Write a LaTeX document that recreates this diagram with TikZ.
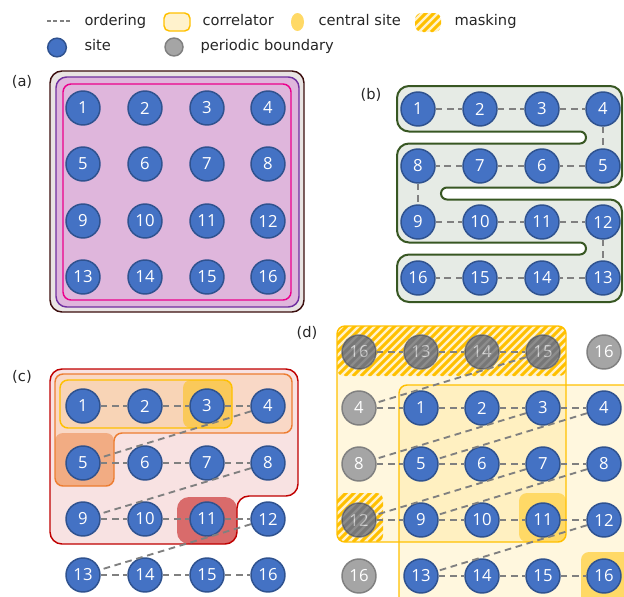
\documentclass[tikz,border=0pt]{standalone}
\usepackage{fontspec}
\setmainfont{DejaVu Sans}
\newfontfamily\sitefont{Open Sans}
\usetikzlibrary{shapes.geometric}

\definecolor{siteblue}{HTML}{4472C4}
\definecolor{siteedge}{HTML}{2F528F}
\definecolor{pbcgray}{HTML}{A5A5A5}
\definecolor{pbcedge}{HTML}{808080}
\definecolor{ordgray}{HTML}{808080}
\definecolor{corrgold}{HTML}{FFC000}
\definecolor{corrcream}{HTML}{FFF2CC}
\definecolor{centyellow}{HTML}{FFD966}
\definecolor{sqbrown}{HTML}{3B0D0D}
\definecolor{sqgray}{HTML}{E9E4E3}
\definecolor{sqpurple}{HTML}{7030A0}
\definecolor{sqpink}{HTML}{DFB6DC}
\definecolor{snakegreen}{HTML}{385723}
\definecolor{snakefill}{HTML}{E6EBE5}
\definecolor{regred}{HTML}{C00000}
\definecolor{regpink}{HTML}{F8E2E2}
\definecolor{regorange}{HTML}{ED7D31}
\definecolor{regpeach}{HTML}{F9D8C6}
\definecolor{corrpeach}{HTML}{F8D4B6}
\definecolor{fivefill}{HTML}{F2AC83}
\definecolor{threefill}{HTML}{FAC95A}
\definecolor{elevenfill}{HTML}{D96B6B}

\tikzset{every picture/.style={line width=0.75pt}}
\tikzset{
  site/.style={circle, fill=siteblue, draw=siteedge, line width=1.1pt, minimum size=25.5pt, inner sep=0pt, text=white, font=\sitefont\fontsize{12.5}{14}\selectfont},
  pbcsite/.style={site, fill=pbcgray, draw=pbcedge},
  orderline/.style={draw=ordgray, line width=1.4pt, dash pattern=on 5pt off 3.5pt},
  lbl/.style={inner sep=0.75pt, font=\fontsize{11}{13}\selectfont, text=black!85},
  corrline/.style={draw=corrgold, line width=1.1pt, rounded corners=6pt},
  maskline/.style={draw=corrgold, line width=2.3pt},
}

% striped (masked) box: x1, y1, x2, y2
\newcommand{\hatchbox}[4]{%
  \begin{scope}
    \clip[rounded corners=5pt] (#1,#2) rectangle (#3,#4);
    \fill[corrcream] (#1,#2) rectangle (#3,#4);
    \foreach \s in {-64,-56,...,232}
      \draw[maskline] (#1,#4) ++(\s,0) -- ++(72,-72);
  \end{scope}}

% darker stripes over a masked site: node, stripe origin x, y
\newcommand{\maskshade}[3]{%
  \begin{scope}
    \clip (#1.center) circle[radius=17];
    \fill[black, opacity=.15] (#1.center) circle[radius=17];
    \foreach \s in {-64,-56,...,232}
      \draw[black, opacity=.15, line width=2.3pt] (#2,#3) ++(\s,0) -- ++(72,-72);
  \end{scope}}

\begin{document}
\begin{tikzpicture}[x=0.75pt,y=0.75pt,yscale=-1,xscale=1]
\useasboundingbox (0,0) rectangle (624,596);

%Legend
\coordinate (lgo1) at (47,21);
\coordinate (lgo2) at (71,21);
\draw [orderline, line width=0.9pt, dash pattern=on 3pt off 1.8pt] (lgo1) -- (lgo2);
\draw (83,26) node [lbl, anchor=base west] (lgord) {ordering};
\draw (177,22) node [draw=corrgold, fill=corrcream, line width=1.1pt, rounded corners=4pt, minimum width=19.5pt, minimum height=13.5pt, inner sep=0pt] (lgcor) {};
\draw (201,26) node [lbl, anchor=base west] (lgcort) {correlator};
\draw (297.5,22) node [ellipse, fill=centyellow, minimum width=9.75pt, minimum height=13.5pt, inner sep=0pt] (lgcen) {};
\draw (317,26) node [lbl, anchor=base west] (lgcent) {central site};
\hatchbox{415}{13}{441}{32}
\draw (453,26) node [lbl, anchor=base west] (lgmask) {masking};
\draw (57,47.5) node [site, minimum size=14pt] (lgsite) {};
\draw (83,50) node [lbl, anchor=base west] (lgsitet) {site};
\draw (174,47) node [pbcsite, minimum size=13.5pt] (lgpbc) {};
\draw (199,50) node [lbl, anchor=base west] (lgpbct) {periodic boundary};

% Panel labels
\draw (22,82) node [lbl] (laba) {(a)};
\draw (371,95) node [lbl] (labb) {(b)};
\draw (22,377) node [lbl] (labc) {(c)};
\draw (307,333) node [lbl] (labd) {(d)};

%(a) nested squares
\draw [draw=sqbrown, fill=sqgray, line width=1.1pt, rounded corners=9pt] (50,71) rectangle (304,312);
\draw [draw=sqpurple, fill=sqpink, line width=1.1pt, rounded corners=8pt] (56,77) rectangle (299,307);
\draw [draw=magenta, line width=1.1pt, rounded corners=6pt] (63,84) rectangle (291,300);

\draw (83,108) node [site] (a1) {1};
\draw (145,108) node [site] (a2) {2};
\draw (207,108) node [site] (a3) {3};
\draw (268,108) node [site] (a4) {4};
\draw (83,164) node [site] (a5) {5};
\draw (145,164) node [site] (a6) {6};
\draw (207,164) node [site] (a7) {7};
\draw (268,164) node [site] (a8) {8};
\draw (83,221) node [site] (a9) {9};
\draw (145,221) node [site] (a10) {10};
\draw (207,221) node [site] (a11) {11};
\draw (268,221) node [site] (a12) {12};
\draw (83,277) node [site] (a13) {13};
\draw (145,277) node [site] (a14) {14};
\draw (207,277) node [site] (a15) {15};
\draw (268,277) node [site] (a16) {16};

%(b) snake, corners as explicit arcs
\draw [draw=snakegreen, fill=snakefill, line width=1.5pt] (409,86) -- (610,86) arc (-90:0:12) -- (622,175.5) arc (0:90:12) -- (447,187.5) arc (270:90:6) -- (610,199.5) arc (-90:0:12) -- (622,290) arc (0:90:12) -- (409,302) arc (90:180:12) -- (397,266.5) arc (180:270:12) -- (580,254.5) arc (90:-90:6) -- (409,242.5) arc (90:180:12) -- (397,155.5) arc (180:270:12) -- (580,143.5) arc (90:-90:6) -- (409,131.5) arc (90:180:12) -- (397,98) arc (180:270:12) -- cycle;

\draw (418,109) node [site] (b1) {1};
\draw (480,109) node [site] (b2) {2};
\draw (542,109) node [site] (b3) {3};
\draw (603,109) node [site] (b4) {4};
\draw (603,166) node [site] (b5) {5};
\draw (542,166) node [site] (b6) {6};
\draw (480,166) node [site] (b7) {7};
\draw (418,166) node [site] (b8) {8};
\draw (418,222) node [site] (b9) {9};
\draw (480,222) node [site] (b10) {10};
\draw (542,222) node [site] (b11) {11};
\draw (603,222) node [site] (b12) {12};
\draw (603,278) node [site] (b13) {13};
\draw (542,278) node [site] (b14) {14};
\draw (480,278) node [site] (b15) {15};
\draw (418,278) node [site] (b16) {16};

\draw [orderline] (b1) -- (b2);
\draw [orderline] (b2) -- (b3);
\draw [orderline] (b3) -- (b4);
\draw [orderline] (b4) -- (b5);
\draw [orderline] (b5) -- (b6);
\draw [orderline] (b6) -- (b7);
\draw [orderline] (b7) -- (b8);
\draw [orderline] (b8) -- (b9);
\draw [orderline] (b9) -- (b10);
\draw [orderline] (b10) -- (b11);
\draw [orderline] (b11) -- (b12);
\draw [orderline] (b12) -- (b13);
\draw [orderline] (b13) -- (b14);
\draw [orderline] (b14) -- (b15);
\draw [orderline] (b15) -- (b16);

%(c) nested correlators
\fill [regpink] [rounded corners=9pt] (174,369) -- (298,369) -- (298,496) -- (237,496) -- (237,544) -- (50,544) -- (50,369) -- cycle;
\fill [regpeach] [rounded corners=6pt] (174,374) -- (292,374) -- (292,433) -- (114,433) -- (114,486) -- (55,486) -- (55,374) -- cycle;
\fill [fivefill, rounded corners=6pt] (55,433) rectangle (114,486);
\fill [corrpeach, rounded corners=6pt] (60,380) rectangle (232,428);
\fill [threefill, rounded corners=6pt] (183,380) rectangle (232,428);
\fill [elevenfill, rounded corners=9pt] (177,497) rectangle (237,544);
\draw [draw=regred, line width=1.1pt] [rounded corners=9pt] (174,369) -- (298,369) -- (298,496) -- (237,496) -- (237,544) -- (50,544) -- (50,369) -- cycle;
\draw [draw=regorange, line width=1.1pt] [rounded corners=6pt] (174,374) -- (292,374) -- (292,433) -- (114,433) -- (114,486) -- (55,486) -- (55,374) -- cycle;
\draw [corrline] (60,380) rectangle (232,428);

\draw (83,406) node [site] (c1) {1};
\draw (145,406) node [site] (c2) {2};
\draw (207,406) node [site] (c3) {3};
\draw (268,406) node [site] (c4) {4};
\draw (83,463) node [site] (c5) {5};
\draw (145,463) node [site] (c6) {6};
\draw (207,463) node [site] (c7) {7};
\draw (268,463) node [site] (c8) {8};
\draw (83,519) node [site] (c9) {9};
\draw (145,519) node [site] (c10) {10};
\draw (207,519) node [site] (c11) {11};
\draw (268,519) node [site] (c12) {12};
\draw (83,575) node [site] (c13) {13};
\draw (145,575) node [site] (c14) {14};
\draw (207,575) node [site] (c15) {15};
\draw (268,575) node [site] (c16) {16};

\draw [orderline] (c1) -- (c2);
\draw [orderline] (c2) -- (c3);
\draw [orderline] (c3) -- (c4);
\draw [orderline] (c4) -- (c5);
\draw [orderline] (c5) -- (c6);
\draw [orderline] (c6) -- (c7);
\draw [orderline] (c7) -- (c8);
\draw [orderline] (c8) -- (c9);
\draw [orderline] (c9) -- (c10);
\draw [orderline] (c10) -- (c11);
\draw [orderline] (c11) -- (c12);
\draw [orderline] (c12) -- (c13);
\draw [orderline] (c13) -- (c14);
\draw [orderline] (c14) -- (c15);
\draw [orderline] (c15) -- (c16);

%(d) periodic boundary with masking
\fill [corrgold, opacity=.13, rounded corners=6pt] (337,326) rectangle (566,542);
\fill [corrgold, opacity=.13, rounded corners=6pt] (399,385) rectangle (650,620);
\hatchbox{337}{326}{566}{376}
\hatchbox{337}{493}{383}{542}
\fill [centyellow, rounded corners=6pt] (519,493) rectangle (566,542);
\fill [centyellow, rounded corners=6pt] (581,552) rectangle (650,620);
\draw [corrline] (337,326) rectangle (566,542);
\draw [corrline] (399,385) rectangle (650,620);

\draw (359,352) node [pbcsite] (dg16a) {16};
\draw (421,352) node [pbcsite] (dg13) {13};
\draw (482,352) node [pbcsite] (dg14) {14};
\draw (543,352) node [pbcsite] (dg15) {15};
\draw (604,352) node [pbcsite] (dg16b) {16};
\draw (359,408) node [pbcsite] (dg4) {4};
\draw (359,464) node [pbcsite] (dg8) {8};
\draw (359,520) node [pbcsite] (dg12) {12};
\draw (359,576) node [pbcsite] (dg16c) {16};

\draw (421,408) node [site] (d1) {1};
\draw (482,408) node [site] (d2) {2};
\draw (543,408) node [site] (d3) {3};
\draw (604,408) node [site] (d4) {4};
\draw (421,464) node [site] (d5) {5};
\draw (482,464) node [site] (d6) {6};
\draw (543,464) node [site] (d7) {7};
\draw (604,464) node [site] (d8) {8};
\draw (421,520) node [site] (d9) {9};
\draw (482,520) node [site] (d10) {10};
\draw (543,520) node [site] (d11) {11};
\draw (604,520) node [site] (d12) {12};
\draw (421,576) node [site] (d13) {13};
\draw (482,576) node [site] (d14) {14};
\draw (543,576) node [site] (d15) {15};
\draw (604,576) node [site] (d16) {16};

\maskshade{dg16a}{337}{376}
\maskshade{dg13}{337}{376}
\maskshade{dg14}{337}{376}
\maskshade{dg15}{337}{376}
\maskshade{dg12}{337}{542}

\draw [orderline] (dg16a) -- (dg13);
\draw [orderline] (dg13) -- (dg14);
\draw [orderline] (dg14) -- (dg15);
\draw [orderline] (dg15) -- (dg4);
\draw [orderline] (dg4) -- (d1);
\draw [orderline] (d1) -- (d2);
\draw [orderline] (d2) -- (d3);
\draw [orderline] (d3) -- (d4);
\draw [orderline] (d3) -- (dg8);
\draw [orderline] (d4) -- (d5);
\draw [orderline] (dg8) -- (d5);
\draw [orderline] (d5) -- (d6);
\draw [orderline] (d6) -- (d7);
\draw [orderline] (d7) -- (d8);
\draw [orderline] (d7) -- (dg12);
\draw [orderline] (d8) -- (d9);
\draw [orderline] (dg12) -- (d9);
\draw [orderline] (d9) -- (d10);
\draw [orderline] (d10) -- (d11);
\draw [orderline] (d11) -- (d12);
\draw [orderline] (d12) -- (d13);
\draw [orderline] (d13) -- (d14);
\draw [orderline] (d14) -- (d15);
\draw [orderline] (d15) -- (d16);

\end{tikzpicture}
\end{document}
